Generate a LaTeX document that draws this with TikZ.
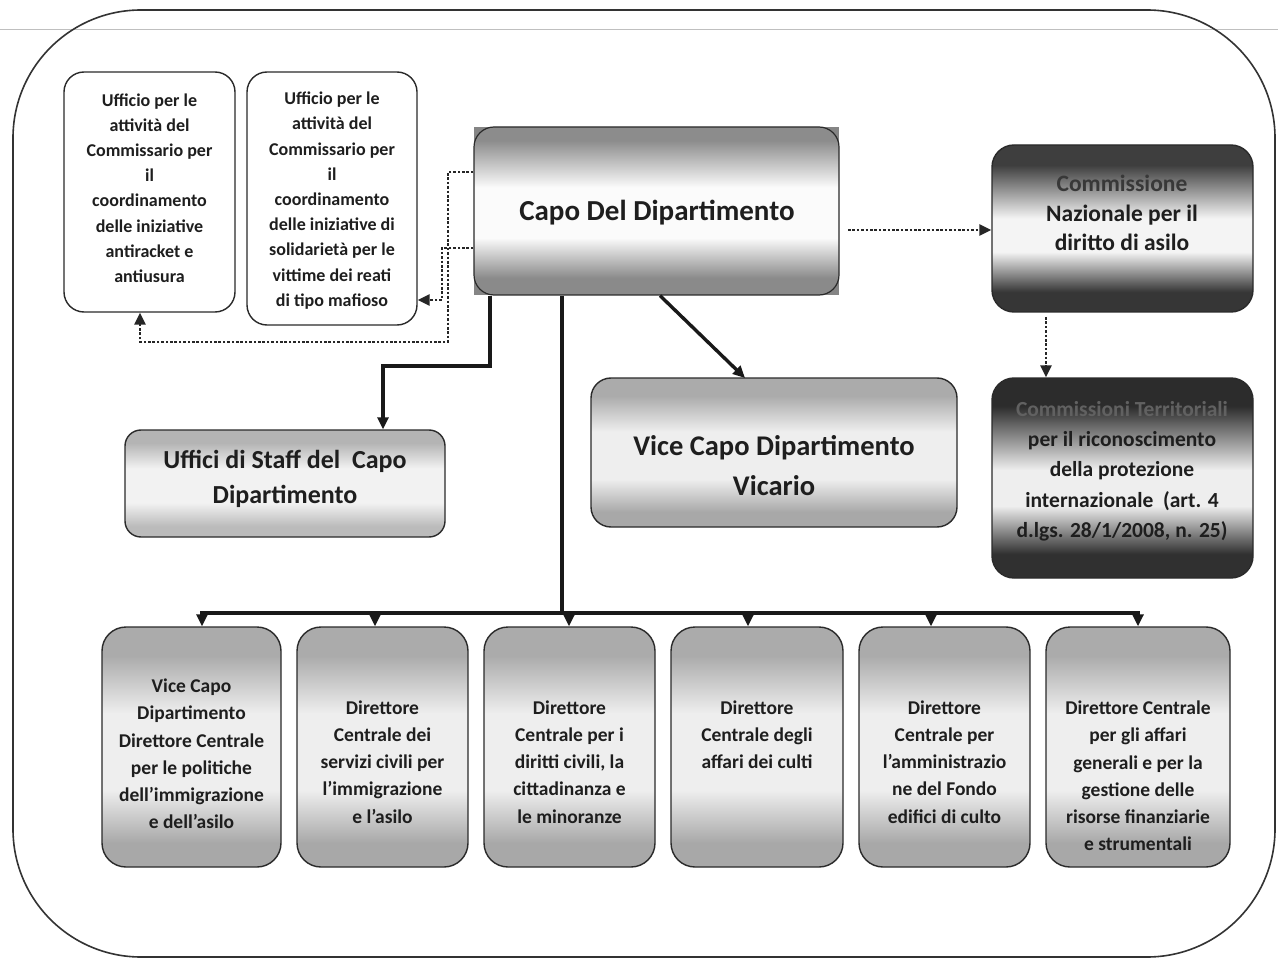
\documentclass[tikz,border=0pt]{standalone}
\usepackage{fontspec}
\setmainfont{Carlito}
\usetikzlibrary{arrows.meta,calc}
\definecolor{txt}{HTML}{1E1E1E}
\definecolor{edge}{HTML}{2A2A2A}
\definecolor{LT}{HTML}{ABABAB}\definecolor{LW}{HTML}{EEEEEE}\definecolor{LB}{HTML}{A8A8A8}
\definecolor{ST}{HTML}{B4B4B4}\definecolor{SW}{HTML}{F2F2F2}\definecolor{SB}{HTML}{BBBBBB}
\definecolor{CT1}{HTML}{8C8C8C}\definecolor{CW}{HTML}{FBFBFB}\definecolor{CB}{HTML}{8A8A8A}
\definecolor{DT}{HTML}{3E3E3E}\definecolor{DW}{HTML}{F4F4F4}\definecolor{DB}{HTML}{363636}
\definecolor{ET}{HTML}{2C2C2C}\definecolor{EW}{HTML}{EEEEEE}\definecolor{EB}{HTML}{303030}
\pgfdeclareverticalshading{lightsh}{100bp}{color(0bp)=(LB); color(30bp)=(LB); color(41bp)=(LW); color(57bp)=(LW); color(69bp)=(LT); color(100bp)=(LT)}
\pgfdeclareverticalshading{staffsh}{100bp}{color(0bp)=(SB); color(30bp)=(SB); color(41bp)=(SW); color(57bp)=(SW); color(69bp)=(ST); color(100bp)=(ST)}
\pgfdeclareverticalshading{caposh}{100bp}{color(0bp)=(CB); color(30bp)=(CB); color(42bp)=(CW); color(57bp)=(CW); color(71bp)=(CT1); color(100bp)=(CT1)}
\pgfdeclareverticalshading{darksh}{100bp}{color(0bp)=(DB); color(31bp)=(DB); color(43bp)=(DW); color(53bp)=(DW); color(69bp)=(DT); color(100bp)=(DT)}
\pgfdeclareverticalshading{darkersh}{100bp}{color(0bp)=(EB); color(31bp)=(EB); color(43bp)=(EW); color(52bp)=(EW); color(68bp)=(ET); color(100bp)=(ET)}
\tikzset{
  frame/.style={draw=black!80, line width=1.6pt, rounded corners=128pt},
  plainbox/.style={draw=edge, line width=1.4pt, fill=white, rounded corners=20pt, inner sep=0pt},
  lightbox/.style={draw=edge, line width=1.4pt, inner sep=0pt, shade, shading=lightsh, rounded corners=20pt},
  staffbox/.style={draw=edge, line width=1.4pt, inner sep=0pt, shade, shading=staffsh, rounded corners=16pt},
  capobox/.style={draw=edge, line width=1.2pt, inner sep=0pt, shade, shading=caposh, rounded corners=20pt},
  darkbox/.style={draw=edge, line width=1.4pt, inner sep=0pt, shade, shading=darksh, rounded corners=22pt},
  darkerbox/.style={draw=edge, line width=1.4pt, inner sep=0pt, shade, shading=darkersh, rounded corners=22pt},
  label/.style={align=center, inner sep=0pt, text=txt, font=\bfseries},
  conn/.style={draw=black!90, line width=3.4pt},
  dotconn/.style={draw=black!85, line width=2.8pt, dash pattern=on 2.6pt off 1.8pt},
  tip/.style={-{Triangle[length=12pt,width=11pt]}},
  bothtip/.style={{Triangle[length=12pt,width=11pt]}-{Triangle[length=12pt,width=11pt]}},
}
\begin{document}
\begin{tikzpicture}[x=1pt,y=-1pt]
\useasboundingbox (0,0) rectangle (1278,960);
\fill[white] (0,0) rectangle (1278,960);
% header line and outer frame
\draw[black!25, line width=1pt] (0,30) -- (1278,30);
\draw[frame] (13,10) rectangle (1275,957);

% top-left offices
\node[plainbox, minimum width=171pt, minimum height=240pt] (A) at (149.5,192) {};
\node[label, font=\bfseries\fontsize{18}{25.2}\selectfont] (At) at (149.5,188)
  {Ufficio per le\\attività del\\Commissario per\\il\\coordinamento\\delle iniziative\\antiracket e\\antiusura};
\node[plainbox, minimum width=170pt, minimum height=253pt] (B) at (332,198.5) {};
\node[label, font=\bfseries\fontsize{18}{25.2}\selectfont] (Bt) at (332,200.5)
  {Ufficio per le\\attività del\\Commissario per\\il\\coordinamento\\delle iniziative di\\solidarietà per le\\vittime dei reati\\di tipo mafioso};

% Capo
\fill[black!48] (474,127) rectangle (839,295);
\node[capobox, minimum width=365pt, minimum height=168pt] (Capo) at (656.5,211) {};
\node[label, font=\bfseries\fontsize{29}{34}\selectfont] (Capot) at (657,213) {Capo Del Dipartimento};

% Vice vicario
\node[lightbox, minimum width=366pt, minimum height=149pt] (Vice) at (774,452.5) {};
\node[label, font=\bfseries\fontsize{28.5}{40}\selectfont] (Vicet) at (774,466) {Vice Capo Dipartimento\\Vicario};

% Staff
\node[staffbox, minimum width=320pt, minimum height=107pt] (Staff) at (285,483.5) {};
\node[label, font=\bfseries\fontsize{26}{35}\selectfont] (Stafft) at (285,479) {Uffici di Staff del\ \ Capo\\Dipartimento};

% Commissioni
\node[darkbox, minimum width=261pt, minimum height=167pt] (CN) at (1122.5,228.5) {};
\node[label, font=\bfseries\fontsize{23.5}{29.5}\selectfont] (CNt) at (1122,213) {\textcolor{black!78}{Commissione}\\Nazionale per il\\diritto di asilo};
\node[darkerbox, minimum width=261pt, minimum height=200pt] (CT) at (1122.5,478) {};
\node[label, font=\bfseries\fontsize{21.5}{30.3}\selectfont] (CTt) at (1122,471)
  {\textcolor{black!62}{Commissioni Territoriali}\\per il riconoscimento\\della protezione\\internazionale\ \ (art. 4\\d.lgs. 28/1/2008, n. 25)};

% bottom row
\foreach \n/\cx/\w in {1/191.5/179,2/382.5/171,3/569.5/171,4/757/172,5/944.5/171,6/1138/184}{
  \node[lightbox, rounded corners=24pt, minimum width=\w pt, minimum height=240pt] (b\n) at (\cx,747) {};
}
\tikzset{bt/.style={label, font=\bfseries\fontsize{19.5}{27.2}\selectfont}}
\node[bt] (b1t) at (191.5,754) {Vice Capo\\Dipartimento\\Direttore Centrale\\per le politiche\\dell’immigrazione\\e dell’asilo};
\node[bt] (b2t) at (382.5,762) {Direttore\\Centrale dei\\servizi civili per\\l’immigrazione\\e l’asilo};
\node[bt] (b3t) at (569.5,762) {Direttore\\Centrale per i\\diritti civili, la\\cittadinanza e\\le minoranze};
\node[bt] (b4t) at (757,735) {Direttore\\Centrale degli\\affari dei culti};
\node[bt] (b5t) at (944.5,762) {Direttore\\Centrale per\\l’amministrazio\\ne del Fondo\\edifici di culto};
\node[bt] (b6t) at (1138,776) {Direttore Centrale\\per gli affari\\generali e per la\\gestione delle\\risorse finanziarie\\e strumentali};

% solid connectors
\coordinate (vtip) at (745,378);
\draw[conn, tip] (Capo.south -| 660,0) -- (vtip);
\coordinate (s1) at (490,366);
\coordinate (s2) at (383,366);
\draw[conn, tip] (Capo.south -| s1) -- (s1) -- (s2) -- (Staff.north -| s2);
\coordinate (trunk) at (562,613);
\draw[conn] (Capo.south -| trunk) -- (trunk);
\coordinate (d1) at (202,613);
\coordinate (d2) at (375,613);
\coordinate (d3) at (569,613);
\coordinate (d4) at (748,613);
\coordinate (d5) at (931,613);
\coordinate (d6) at (1138,613);
\draw[conn, bothtip] (b1.north -| d1) -- (d1) -- (d6) -- (b6.north -| d6);
\foreach \k in {2,3,4,5}{
  \draw[conn, tip] (d\k) -- (b\k.north -| d\k);
}

% dotted connectors
\coordinate (p1) at (448,172);
\coordinate (p2) at (140,342);
\draw[dotconn, tip] (Capo.west |- p1) -- (p1) |- (p2) -- (A.south -| p2);
\coordinate (q1) at (442,248);
\coordinate (q2) at (442,300);
\draw[dotconn, tip] (Capo.west |- q1) -- (q1) -- (q2) -- (B.east |- q2);
\coordinate (r1) at (848,230);
\draw[dotconn, tip] (r1) -- (CN.west |- r1);
\coordinate (t1) at (1046,317);
\draw[dotconn, tip] (t1) -- (CT.north -| t1);
\end{tikzpicture}
\end{document}
